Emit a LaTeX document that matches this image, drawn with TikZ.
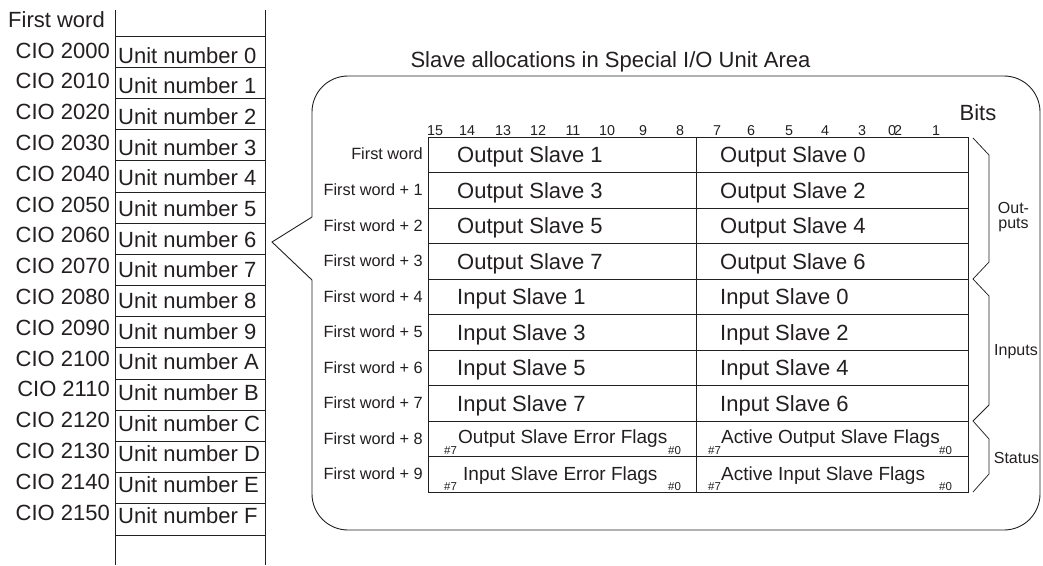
\documentclass[tikz,border=0pt]{standalone}
\usepackage{fontspec}
\setmainfont{Liberation Sans}
\definecolor{ink}{HTML}{231F20}
\begin{document}
\begin{tikzpicture}[x=1pt,y=-1pt,
  every node/.style={inner sep=0pt, text=ink},
  big/.style={font=\fontsize{22}{26}\selectfont},
  mid/.style={font=\fontsize{19}{22}\selectfont},
  lab/.style={font=\fontsize{16.3}{19}\selectfont},
  bitn/.style={font=\fontsize{14.3}{17}\selectfont},
  tiny/.style={font=\fontsize{11.5}{13}\selectfont},
  side/.style={font=\fontsize{16}{18}\selectfont},
  rule/.style={draw=ink, line width=0.9pt},
  thin/.style={draw=ink, line width=0.75pt}]
\useasboundingbox (0,0) rectangle (1043,565);

% ---------- left column ----------
\node[big, anchor=base east] (fw) at (105,27) {First word};
\draw[rule] (115,10) -- (115,565);
\draw[rule] (265,10) -- (265,565);
\foreach \k in {0,...,16}{
  \draw[rule] (115,{36+31.19*\k}) -- (265,{36+31.19*\k});
}
\foreach \i/\c/\u in {0/2000/0,1/2010/1,2/2020/2,3/2030/3,4/2040/4,5/2050/5,6/2060/6,7/2070/7,8/2080/8,9/2090/9,10/2100/A,11/2110/B,12/2120/C,13/2130/D,14/2140/E,15/2150/F}{
  \node[big, anchor=base east] (cio\i) at (110,{58+30.8*\i}) {CIO \c};
  \node[big, anchor=base west] (unit\i) at (118,{63+30.67*\i}) {Unit number \u};
}

% ---------- title ----------
\node[big, anchor=base] (title) at (610.5,67) {Slave allocations in Special I/O Unit Area};

% ---------- callout outline ----------
\draw[rule, rounded corners=36pt] (312,217) -- (312,76) -- (1040,76) -- (1040,530) -- (312,530) -- (312,280);
\draw[rule] (312,217) -- (272,242) -- (312,280);

% ---------- bits header ----------
\node[big, anchor=base] (bits) at (978,120) {Bits};
\foreach \b/\x in {15/435,14/467,13/503,12/538,11/573,10/607,9/643,8/680,7/717,6/751,5/789,4/825,3/862,0/892,2/898,1/936}{
  \node[bitn, anchor=base] (bit\b) at (\x,135) {\b};
}

% ---------- table ----------
\draw[rule] (428,137) rectangle (968,492);
\draw[rule] (696,137) -- (696,492);
\foreach \k in {1,...,9}{
  \draw[rule] (428,{137+35.5*\k}) -- (968,{137+35.5*\k});
}
\node[lab, anchor=east] (rl0) at (423,154) {First word};
\foreach \k in {1,...,9}{
  \node[lab, anchor=east] (rl\k) at (423,{137+35.5*\k+17.2}) {First word + \k};
}
\foreach \k/\l/\r in {0/Output Slave 1/Output Slave 0,1/Output Slave 3/Output Slave 2,2/Output Slave 5/Output Slave 4,3/Output Slave 7/Output Slave 6,4/Input Slave 1/Input Slave 0,5/Input Slave 3/Input Slave 2,6/Input Slave 5/Input Slave 4,7/Input Slave 7/Input Slave 6}{
  \node[big, anchor=base west] (cl\k) at (457,{137+35.5*\k+25.6}) {\l};
  \node[big, anchor=base west] (cr\k) at (720,{137+35.5*\k+25.6}) {\r};
}
% status rows
\node[tiny, anchor=base west] (s8a) at (444,454) {\#7};
\node[mid, anchor=base west] (cl8) at (458,443) {Output Slave Error Flags};
\node[tiny, anchor=base west] (s8b) at (668,454) {\#0};
\node[tiny, anchor=base west] (s8c) at (708,454) {\#7};
\node[mid, anchor=base west] (cr8) at (721,443) {Active Output Slave Flags};
\node[tiny, anchor=base west] (s8d) at (939,454) {\#0};

\node[tiny, anchor=base west] (s9a) at (444,490) {\#7};
\node[mid, anchor=base west] (cl9) at (463,480) {Input Slave Error Flags};
\node[tiny, anchor=base west] (s9b) at (668,490) {\#0};
\node[tiny, anchor=base west] (s9c) at (708,490) {\#7};
\node[mid, anchor=base west] (cr9) at (721,480) {Active Input Slave Flags};
\node[tiny, anchor=base west] (s9d) at (939,490) {\#0};

% ---------- braces ----------
\draw[thin] (973,138) -- (989,155) -- (989,262) -- (973,279) -- (989,296) -- (989,405) -- (973,421) -- (989,439) -- (989,474) -- (973,492);
\node[side, anchor=base] (outa) at (1013.5,213) {Out-};
\node[side, anchor=base] (outb) at (1013.5,228) {puts};
\node[side, anchor=base] (inp) at (1016,355) {Inputs};
\node[side, anchor=base] (stat) at (1016.5,463) {Status};
\end{tikzpicture}
\end{document}
